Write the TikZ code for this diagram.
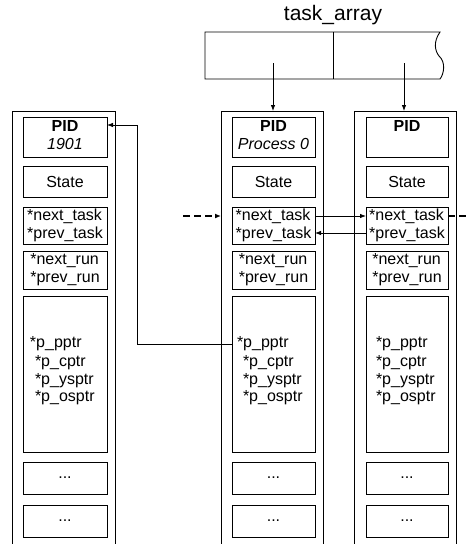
\documentclass[tikz,border=0pt]{standalone}
\usepackage{fontspec}
\setmainfont{Liberation Sans}
\usetikzlibrary{arrows.meta}
\begin{document}
\begin{tikzpicture}[x=1pt,y=-1pt,
  line width=0.9pt,
  every node/.style={font=\fontsize{16pt}{18pt}\selectfont, inner sep=0pt, outer sep=0pt},
  box/.style={draw, rectangle, anchor=north west, align=left},
  colbox/.style={draw, rectangle, anchor=north west},
  ptr/.style={-{Latex[length=6pt,width=4.5pt]}, line width=0.8pt},
  dptr/.style={dash pattern=on 7pt off 4pt, line width=1.7pt},
  ptxt/.style={anchor=west},
]
\useasboundingbox (0,0) rectangle (470,544);

\foreach \c/\ox/\ow/\ix/\iw in {L/12/103/23/84, M/221/102/232/83, R/354/102/366/82}{
  \node[colbox, minimum width=\ow pt, minimum height=434pt] (\c-col) at (\ox,111) {};
  \node[box, minimum width=\iw pt, minimum height=40pt] (\c-pid) at (\ix,117) {};
  \node[font=\fontsize{16pt}{18pt}\selectfont\bfseries] (\c-pidt) at ([yshift=-9pt]\c-pid.north) {PID};
  \node[box, minimum width=\iw pt, minimum height=31pt] (\c-state) at (\ix,166) {State};
  \node[box, minimum width=\iw pt, minimum height=37pt] (\c-task) at (\ix,207) {*next\_task\\*prev\_task};
  \node[box, minimum width=\iw pt, minimum height=38pt] (\c-run) at (\ix,251) {*next\_run\\*prev\_run};
  \node[box, minimum width=\iw pt, minimum height=156pt] (\c-p) at (\ix,296) {};
  \node[box, minimum width=\iw pt, minimum height=32pt] (\c-d1) at (\ix,462) {...};
  \node[box, minimum width=\iw pt, minimum height=32pt] (\c-d2) at (\ix,505) {...};
}

\node[font=\fontsize{16pt}{18pt}\selectfont\itshape] (L-pids) at ([yshift=-27pt]L-pid.north) {1901};
\node[font=\fontsize{16pt}{18pt}\selectfont\itshape] (M-pids) at ([yshift=-27pt]M-pid.north) {Process 0};

\node[ptxt] (L-pp) at (30,344) {*p\_pptr};
\node[ptxt] (L-pc) at (35,363) {*p\_cptr};
\node[ptxt] (L-py) at (35,381) {*p\_ysptr};
\node[ptxt] (L-po) at (35,398) {*p\_osptr};
\node[ptxt] (M-pp) at (237,344) {*p\_pptr};
\node[ptxt] (M-pc) at (243,363) {*p\_cptr};
\node[ptxt] (M-py) at (243,381) {*p\_ysptr};
\node[ptxt] (M-po) at (243,398) {*p\_osptr};
\node[ptxt] (R-pp) at (376,344) {*p\_pptr};
\node[ptxt] (R-pc) at (376,363) {*p\_cptr};
\node[ptxt] (R-py) at (376,381) {*p\_ysptr};
\node[ptxt] (R-po) at (376,398) {*p\_osptr};

% task array
\node[font=\fontsize{21pt}{24pt}\selectfont] (title) at (333,15) {task\_array};
\node[anchor=north west, minimum width=128pt, minimum height=47pt] (ta1) at (205,32) {};
\coordinate (ta2ne) at (440,32);
\coordinate (ta2se) at (440,79);
\draw (ta1.south west) -- (ta1.north west) -- (ta2ne) .. controls (433,42) and (435,51) .. (439,56)
      .. controls (446,62) and (444,74) .. (ta2se) -- cycle;
\draw (ta1.north east) -- (ta1.south east);

\coordinate (a1) at (273,63);
\coordinate (a2) at (404,63);
\draw[ptr] (a1) -- (a1 |- M-col.north);
\draw[ptr] (a2) -- (a2 |- R-col.north);

% parent pointer
\coordinate (jog) at (137,125);
\draw[ptr] (M-p.west |- M-pp) -| (jog) -- (L-pid.east |- jog);

% task list
\coordinate (ntY) at (0,216);
\coordinate (ptY) at (0,233);
\coordinate (dl) at (183,216);
\coordinate (dr) at (470,216);
\draw[dptr, -{Latex[length=6pt,width=5pt]}] (dl) -- (dl -| M-col.west);
\draw[ptr] (M-task.east |- ntY) -- (R-task.west |- ntY);
\draw[ptr] (R-task.west |- ptY) -- (M-task.east |- ptY);
\draw[dptr] (R-task.east |- ntY) -- (dr);
\end{tikzpicture}
\end{document}
